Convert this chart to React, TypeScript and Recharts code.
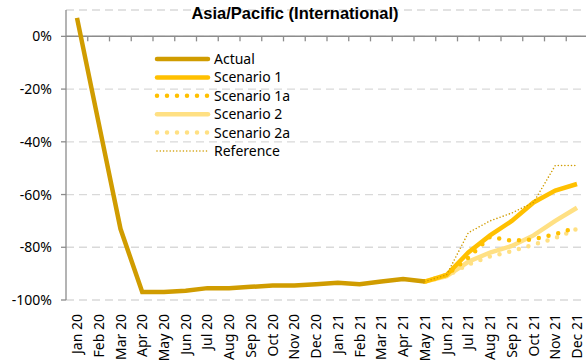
import React from "react";
import { LineChart, Line, XAxis, YAxis, CartesianGrid, ReferenceLine, Legend } from "recharts";

const categories = [
  "Jan 20", "Feb 20", "Mar 20", "Apr 20", "May 20", "Jun 20", "Jul 20", "Aug 20",
  "Sep 20", "Oct 20", "Nov 20", "Dec 20", "Jan 21", "Feb 21", "Mar 21", "Apr 21",
  "May 21", "Jun 21", "Jul 21", "Aug 21", "Sep 21", "Oct 21", "Nov 21", "Dec 21",
];
const N = null;
const actual = [7, -33, -73, -97, -97, -96.5, -95.5, -95.5, -95, -94.5, -94.5, -94, -93.5, -94, -93, -92, -93, N, N, N, N, N, N, N];
const scenario1 = [N, N, N, N, N, N, N, N, N, N, N, N, N, N, N, N, -93, -90.5, -82, -75.5, -70, -63, -58.5, -56];
const scenario1a = [N, N, N, N, N, N, N, N, N, N, N, N, N, N, N, N, -93, -90.5, -84, -76, -77.5, -77, -75, -72.5];
const scenario2 = [N, N, N, N, N, N, N, N, N, N, N, N, N, N, N, N, -93, -91, -85.5, -82, -79.5, -75.5, -70, -65];
const scenario2a = [N, N, N, N, N, N, N, N, N, N, N, N, N, N, N, N, -93, -91, -86.5, -83.5, -81.5, -79, -76.5, -73];
const reference = [N, N, N, N, N, N, N, N, N, N, N, N, N, N, N, N, -93, -90.5, -74.5, -70, -67, -63, -49, -49];
const yTicks = [-100, -80, -60, -40, -20, 0];
const title = "Asia/Pacific (International)";

const data = categories.map((c, i) => ({
  name: c,
  actual: actual[i],
  s1: scenario1[i],
  s1a: scenario1a[i],
  s2: scenario2[i],
  s2a: scenario2a[i],
  ref: reference[i],
}));

const DARK = "#D09C00";
const ORANGE = "#FFC000";
const LIGHT = "#FFE083";
const AXIS = "#8c8c8c";
const FONT = "'Noto Sans', sans-serif";

const legendItems = [
  { label: "Actual", color: DARK, width: 4.5, dash: undefined },
  { label: "Scenario 1", color: ORANGE, width: 4.5, dash: undefined },
  { label: "Scenario 1a", color: ORANGE, width: 4.5, dash: "0 10" },
  { label: "Scenario 2", color: LIGHT, width: 4.5, dash: undefined },
  { label: "Scenario 2a", color: LIGHT, width: 4.5, dash: "0 10" },
  { label: "Reference", color: DARK, width: 1.6, dash: "0 3.3" },
];

const LegendContent = () => (
  <svg width={170} height={112} style={{ display: "block", overflow: "visible" }}>
    {legendItems.map((it, i) => {
      const y = 9 + i * 18.4;
      return (
        <g key={it.label}>
          <line x1={8} x2={59} y1={y} y2={y} stroke={it.color} strokeWidth={it.width}
            strokeDasharray={it.dash} strokeLinecap="round" />
          <text x={65} y={y} dy="0.36em" fontSize={14} fontFamily={FONT} fill="#000">{it.label}</text>
        </g>
      );
    })}
  </svg>
);

const XTick = (props: any) => {
  const { x, y, payload } = props;
  return (
    <g transform={`translate(${x},${y + 14}) rotate(-90)`}>
      <text textAnchor="end" dy="0.36em" fontSize={14} fontFamily={FONT} fill="#000">{payload.value}</text>
    </g>
  );
};

const ZeroTicks = (props: any) => {
  const vb = props.viewBox || {};
  const { x, y, width } = vb;
  if (x == null) return null;
  const n = categories.length;
  const ticks = [];
  for (let i = 1; i <= n; i++) {
    const tx = x + (i * width) / n;
    ticks.push(<line key={i} x1={tx} x2={tx} y1={y} y2={y + 5} stroke={AXIS} strokeWidth={1.3} />);
  }
  return <g>{ticks}</g>;
};

export default function App() {
  return (
    <div style={{ position: "absolute", left: 0, top: 0, width: 586, height: 361, overflow: "hidden", background: "#fff" }}>
      <LineChart width={600} height={361} data={data} margin={{ top: 10, right: 12, bottom: 0, left: 0 }}>
        <CartesianGrid vertical={false} stroke="#d9d9d9" strokeDasharray="8 5" strokeWidth={1.3} />
        <XAxis dataKey="name" padding={{ left: 11, right: 11 }} axisLine={false} tickLine={false}
          tickSize={0} tickMargin={0} height={61} interval={0} tick={<XTick />} />
        <YAxis width={66} domain={[-100, 10]} ticks={yTicks} interval={0} tickFormatter={(v: number) => `${v}%`}
          axisLine={{ stroke: AXIS, strokeWidth: 1.3 }} tickLine={{ stroke: AXIS, strokeWidth: 1.3 }}
          tickSize={5} tickMargin={9} tick={{ fontSize: 14, fontFamily: FONT, fill: "#000" }} />
        <ReferenceLine y={0} stroke={AXIS} strokeWidth={1.5} label={<ZeroTicks />} />
        <Legend layout="vertical" verticalAlign="middle" align="center"
          wrapperStyle={{ left: 149, top: 50, width: 170, height: 112 }} content={<LegendContent />} />
        <Line dataKey="s2a" stroke={LIGHT} strokeWidth={4.5} strokeDasharray="0 10" strokeLinecap="round" dot={false} isAnimationActive={false} />
        <Line dataKey="s2" stroke={LIGHT} strokeWidth={4.5} dot={false} isAnimationActive={false} />
        <Line dataKey="s1a" stroke={ORANGE} strokeWidth={4.5} strokeDasharray="0 10" strokeLinecap="round" dot={false} isAnimationActive={false} />
        <Line dataKey="s1" stroke={ORANGE} strokeWidth={4.5} dot={false} isAnimationActive={false} />
        <Line dataKey="ref" stroke={DARK} strokeWidth={1.6} strokeDasharray="0 3.3" strokeLinecap="round" dot={false} isAnimationActive={false} />
        <Line dataKey="actual" stroke={DARK} strokeWidth={4.5} dot={false} isAnimationActive={false} />
      </LineChart>
      <div style={{ position: "absolute", left: 0, top: 3, width: 590, textAlign: "center", fontFamily: "'Liberation Sans', Arial, sans-serif", fontWeight: "bold", fontSize: 16.5, color: "#000", lineHeight: "20px" }}>
        {title}
      </div>
    </div>
  );
}
